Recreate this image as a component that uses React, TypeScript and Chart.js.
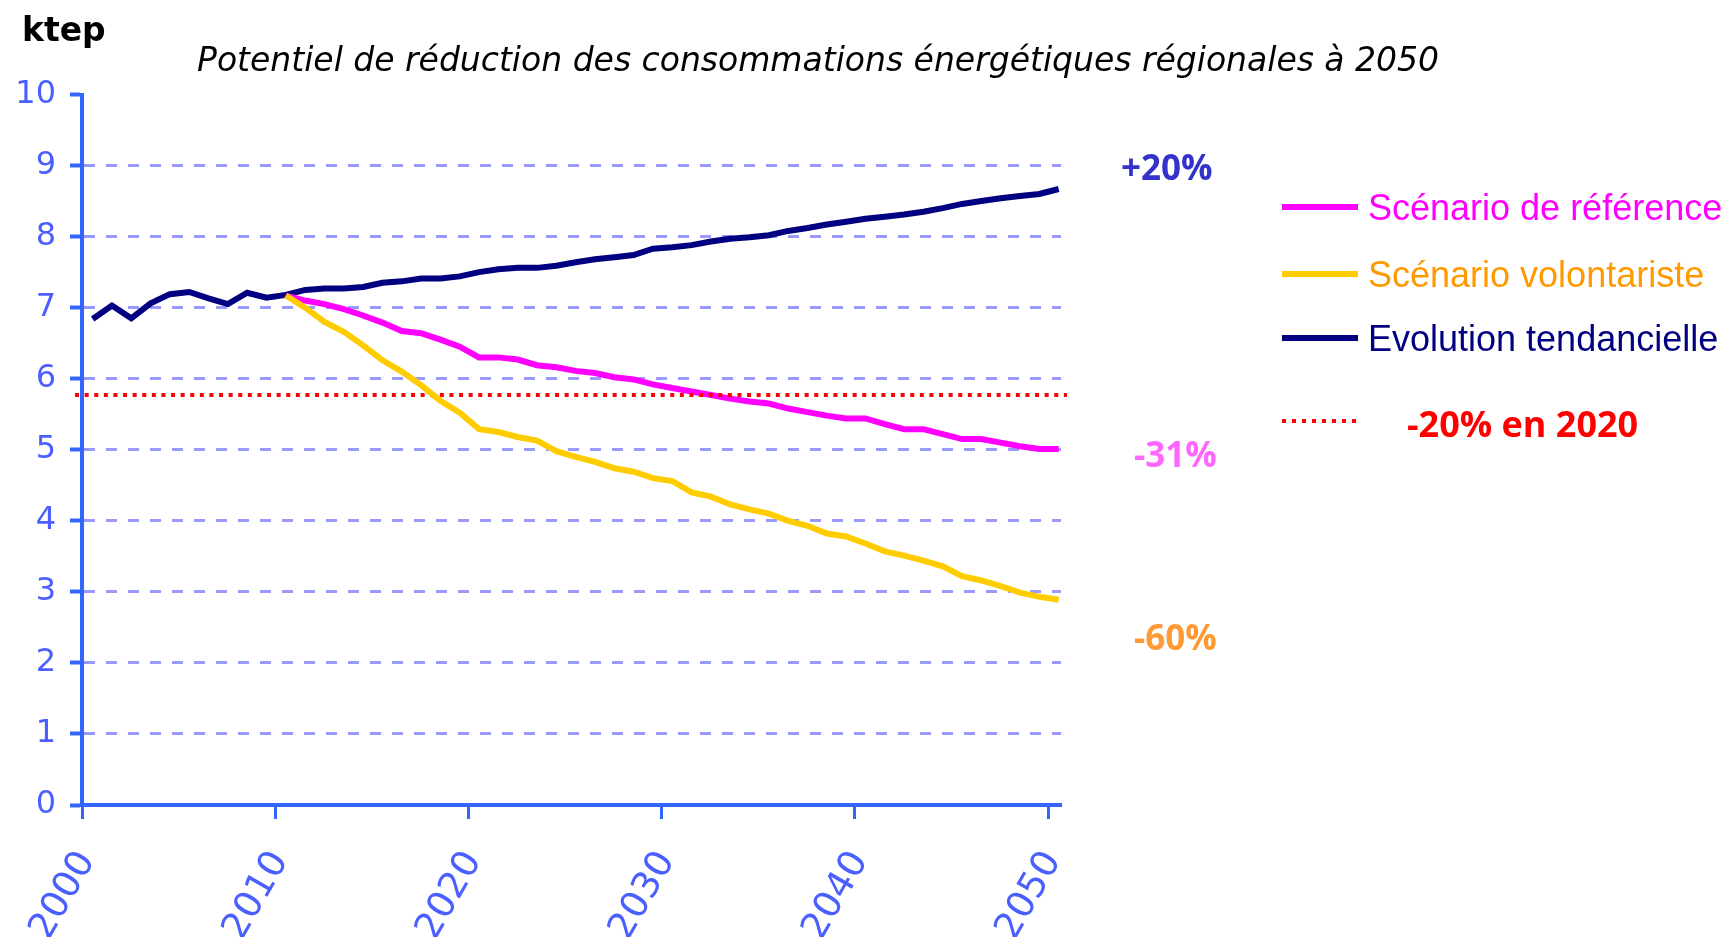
import React, { useEffect, useRef } from 'react';
import { Chart, registerables } from 'chart.js';

Chart.register(...registerables);

// ---------- data ----------
const YEARS = [
  2000, 2001, 2002, 2003, 2004, 2005, 2006, 2007, 2008, 2009,
  2010, 2011, 2012, 2013, 2014, 2015, 2016, 2017, 2018, 2019,
  2020, 2021, 2022, 2023, 2024, 2025, 2026, 2027, 2028, 2029,
  2030, 2031, 2032, 2033, 2034, 2035, 2036, 2037, 2038, 2039,
  2040, 2041, 2042, 2043, 2044, 2045, 2046, 2047, 2048, 2049,
  2050,
];

// Evolution tendancielle (2000-2050)
const TENDANCIELLE = [
  6.84, 7.03, 6.85, 7.06, 7.19, 7.22, 7.13, 7.05, 7.21, 7.14,
  7.18, 7.25, 7.27, 7.27, 7.29, 7.35, 7.37, 7.41, 7.41, 7.44,
  7.50, 7.54, 7.56, 7.56, 7.59, 7.64, 7.68, 7.71, 7.74, 7.83,
  7.85, 7.88, 7.93, 7.97, 7.99, 8.02, 8.08, 8.12, 8.17, 8.21,
  8.25, 8.28, 8.31, 8.35, 8.40, 8.46, 8.50, 8.54, 8.57, 8.60,
  8.67,
];

const SCENARIO_START_YEAR = 2010;

// Scénario de référence (2010-2050)
const REFERENCE = [
  7.17, 7.10, 7.05, 6.98, 6.89, 6.79, 6.67, 6.64, 6.55, 6.45,
  6.30, 6.30, 6.27, 6.19, 6.16, 6.11, 6.08, 6.02, 5.99, 5.92,
  5.87, 5.82, 5.77, 5.72, 5.68, 5.65, 5.58, 5.53, 5.48, 5.44,
  5.44, 5.36, 5.29, 5.29, 5.22, 5.15, 5.15, 5.10, 5.05, 5.01,
  5.01,
];

// Scénario volontariste (2010-2050)
const VOLONTARISTE = [
  7.17, 7.00, 6.80, 6.66, 6.47, 6.26, 6.10, 5.91, 5.69, 5.52,
  5.29, 5.25, 5.18, 5.13, 4.98, 4.90, 4.83, 4.74, 4.69, 4.60,
  4.56, 4.40, 4.34, 4.23, 4.16, 4.10, 4.00, 3.93, 3.82, 3.78,
  3.68, 3.57, 3.51, 3.44, 3.36, 3.22, 3.16, 3.08, 2.99, 2.93,
  2.89,
];

// objectif -20% en 2020
const TARGET_VALUE = [5.77];

const X_TICKS = [2000, 2010, 2020, 2030, 2040, 2050];
const Y_TICKS = [0, 1, 2, 3, 4, 5, 6, 7, 8, 9, 10];

const SERIES_LABELS = ['Scénario de référence', 'Scénario volontariste', 'Evolution tendancielle'];
const TARGET_LABEL = '-20% en 2020';
const END_LABELS = ['+20%', '-31%', '-60%'];
const TITLE = 'Potentiel de réduction des consommations énergétiques régionales à 2050';
const UNIT = 'ktep';

// ---------- styles ----------
const COLORS = { reference: '#ff00ff', volontariste: '#ffcc00', tendancielle: '#000080', target: '#ff0000' };
const AXIS_BLUE = '#3366ff';
const TICK_TEXT = '#4a5fff';
const GRID = '#9999ff';
const CAT_CENTER = 0.55; // points sit in the middle of each yearly slot

const W = 1724;
const H = 937;

function yearPoints(startYear: number, values: number[]) {
  return values.map((v, i) => ({ x: YEARS[YEARS.indexOf(startYear) + i] + CAT_CENTER, y: v }));
}

export default function App() {
  const canvasRef = useRef<HTMLCanvasElement | null>(null);

  useEffect(() => {
    document.body.style.margin = '0';
    document.body.style.overflow = 'hidden';
    const canvas = canvasRef.current;
    if (!canvas) return;

    const chart = new Chart(canvas, {
      type: 'line',
      data: {
        datasets: [
          {
            label: SERIES_LABELS[1],
            data: yearPoints(SCENARIO_START_YEAR, VOLONTARISTE),
            borderColor: COLORS.volontariste,
            borderWidth: 6,
            pointRadius: 0,
            tension: 0,
            fill: false,
          },
          {
            label: TARGET_LABEL,
            data: [
              { x: YEARS[0] - 0.36, y: TARGET_VALUE[0] },
              { x: YEARS[YEARS.length - 1] + 0.98, y: TARGET_VALUE[0] },
            ],
            borderColor: COLORS.target,
            borderWidth: 4,
            borderDash: [4, 5.6],
            pointRadius: 0,
            tension: 0,
            fill: false,
            clip: false as any,
          },
          {
            label: SERIES_LABELS[0],
            data: yearPoints(SCENARIO_START_YEAR, REFERENCE),
            borderColor: COLORS.reference,
            borderWidth: 6,
            pointRadius: 0,
            tension: 0,
            fill: false,
          },
          {
            label: SERIES_LABELS[2],
            data: yearPoints(YEARS[0], TENDANCIELLE),
            borderColor: COLORS.tendancielle,
            borderWidth: 6,
            pointRadius: 0,
            tension: 0,
            fill: false,
          },
        ],
      },
      options: {
        responsive: true,
        maintainAspectRatio: false,
        animation: false,
        events: [],
        layout: { padding: { left: 0, right: 663, top: 94.5, bottom: 0 } },
        plugins: {
          legend: { display: false },
          tooltip: { enabled: false },
          title: { display: false },
        },
        scales: {
          x: {
            type: 'linear',
            min: 2000,
            max: 2050.67,
            afterBuildTicks: (s: any) => {
              s.ticks = X_TICKS.map((v) => ({ value: v }));
            },
            afterFit: (s: any) => {
              s.height = H - 805;
            },
            grid: {
              drawOnChartArea: false,
              drawTicks: true,
              tickLength: 14,
              tickWidth: 3,
              tickColor: AXIS_BLUE,
            },
            border: { display: true, color: AXIS_BLUE, width: 4 },
            ticks: {
              autoSkip: false,
              minRotation: 60,
              maxRotation: 60,
              padding: 25,
              labelOffset: 5,
              color: TICK_TEXT,
              font: { family: 'DejaVu Sans', size: 37 },
              callback: (v: any) => String(v),
            },
          },
          y: {
            type: 'linear',
            min: 0,
            max: 10,
            afterBuildTicks: (s: any) => {
              s.ticks = Y_TICKS.map((v) => ({ value: v }));
            },
            afterFit: (s: any) => {
              s.width = 82;
            },
            grid: {
              color: (c: any) =>
                c.tick && (c.tick.value === 0 || c.tick.value === 10) ? 'rgba(0,0,0,0)' : GRID,
              lineWidth: 3,
              drawTicks: true,
              tickLength: 12,
              tickWidth: 4,
              tickColor: AXIS_BLUE,
            },
            border: { display: true, color: AXIS_BLUE, width: 4, dash: [11, 11] },
            ticks: {
              padding: 14,
              color: TICK_TEXT,
              font: { family: 'DejaVu Sans', size: 32 },
              callback: (v: any) => String(v),
            },
          },
        },
      } as any,
    });

    return () => chart.destroy();
  }, []);

  const text = (
    content: string,
    left: number,
    cy: number,
    size: number,
    color: string,
    family: string,
    weight: number | string = 'normal',
    italic = false,
    extra: React.CSSProperties = {}
  ) => (
    <div
      key={content}
      style={{
        position: 'absolute',
        left,
        top: cy - size * 0.6,
        height: size * 1.2,
        lineHeight: `${size * 1.2}px`,
        fontSize: size,
        fontFamily: family,
        fontWeight: weight as any,
        fontStyle: italic ? 'italic' : 'normal',
        color,
        whiteSpace: 'nowrap',
        ...extra,
      }}
    >
      {content}
    </div>
  );

  const legendColors = [COLORS.reference, '#ff9900', COLORS.tendancielle];
  const legendLineColors = [COLORS.reference, COLORS.volontariste, COLORS.tendancielle];
  const legendY = [207, 274, 338];
  const endColors = ['#3333cc', '#ff66ff', '#ff9933'];
  const endY = [167, 454, 637];
  const endX = [1121, 1134, 1134];

  return (
    <div style={{ position: 'relative', width: W, height: H, background: '#fff', overflow: 'hidden' }}>
      <canvas ref={canvasRef} style={{ position: 'absolute', left: 0, top: 0 }} />
      <div style={{ position: 'absolute', left: 0, top: 0, width: W, height: H, pointerEvents: 'none' }}>
        {text(UNIT, 22, 30, 33, '#000', 'DejaVu Sans', 'bold')}
        {text(TITLE, 197, 60, 33, '#000', 'DejaVu Sans', 'normal', true)}
        {END_LABELS.map((l, i) => text(l, endX[i], endY[i], 35, endColors[i], 'Open Sans', 'bold'))}
        {SERIES_LABELS.map((l, i) => (
          <React.Fragment key={l}>
            <div
              style={{
                position: 'absolute',
                left: 1282,
                top: legendY[i] - 3,
                width: 76,
                height: 6,
                background: legendLineColors[i],
              }}
            />
            {text(l, 1368, legendY[i] + 1, 36, legendColors[i], 'Liberation Sans')}
          </React.Fragment>
        ))}
        <div
          style={{
            position: 'absolute',
            left: 1282,
            top: 419,
            width: 80,
            height: 4,
            background: `repeating-linear-gradient(to right, ${COLORS.target} 0px, ${COLORS.target} 4px, transparent 4px, transparent 10px)`,
          }}
        />
        {text(TARGET_LABEL, 1407, 424, 36, COLORS.target, 'Open Sans', 'bold')}
      </div>
    </div>
  );
}
